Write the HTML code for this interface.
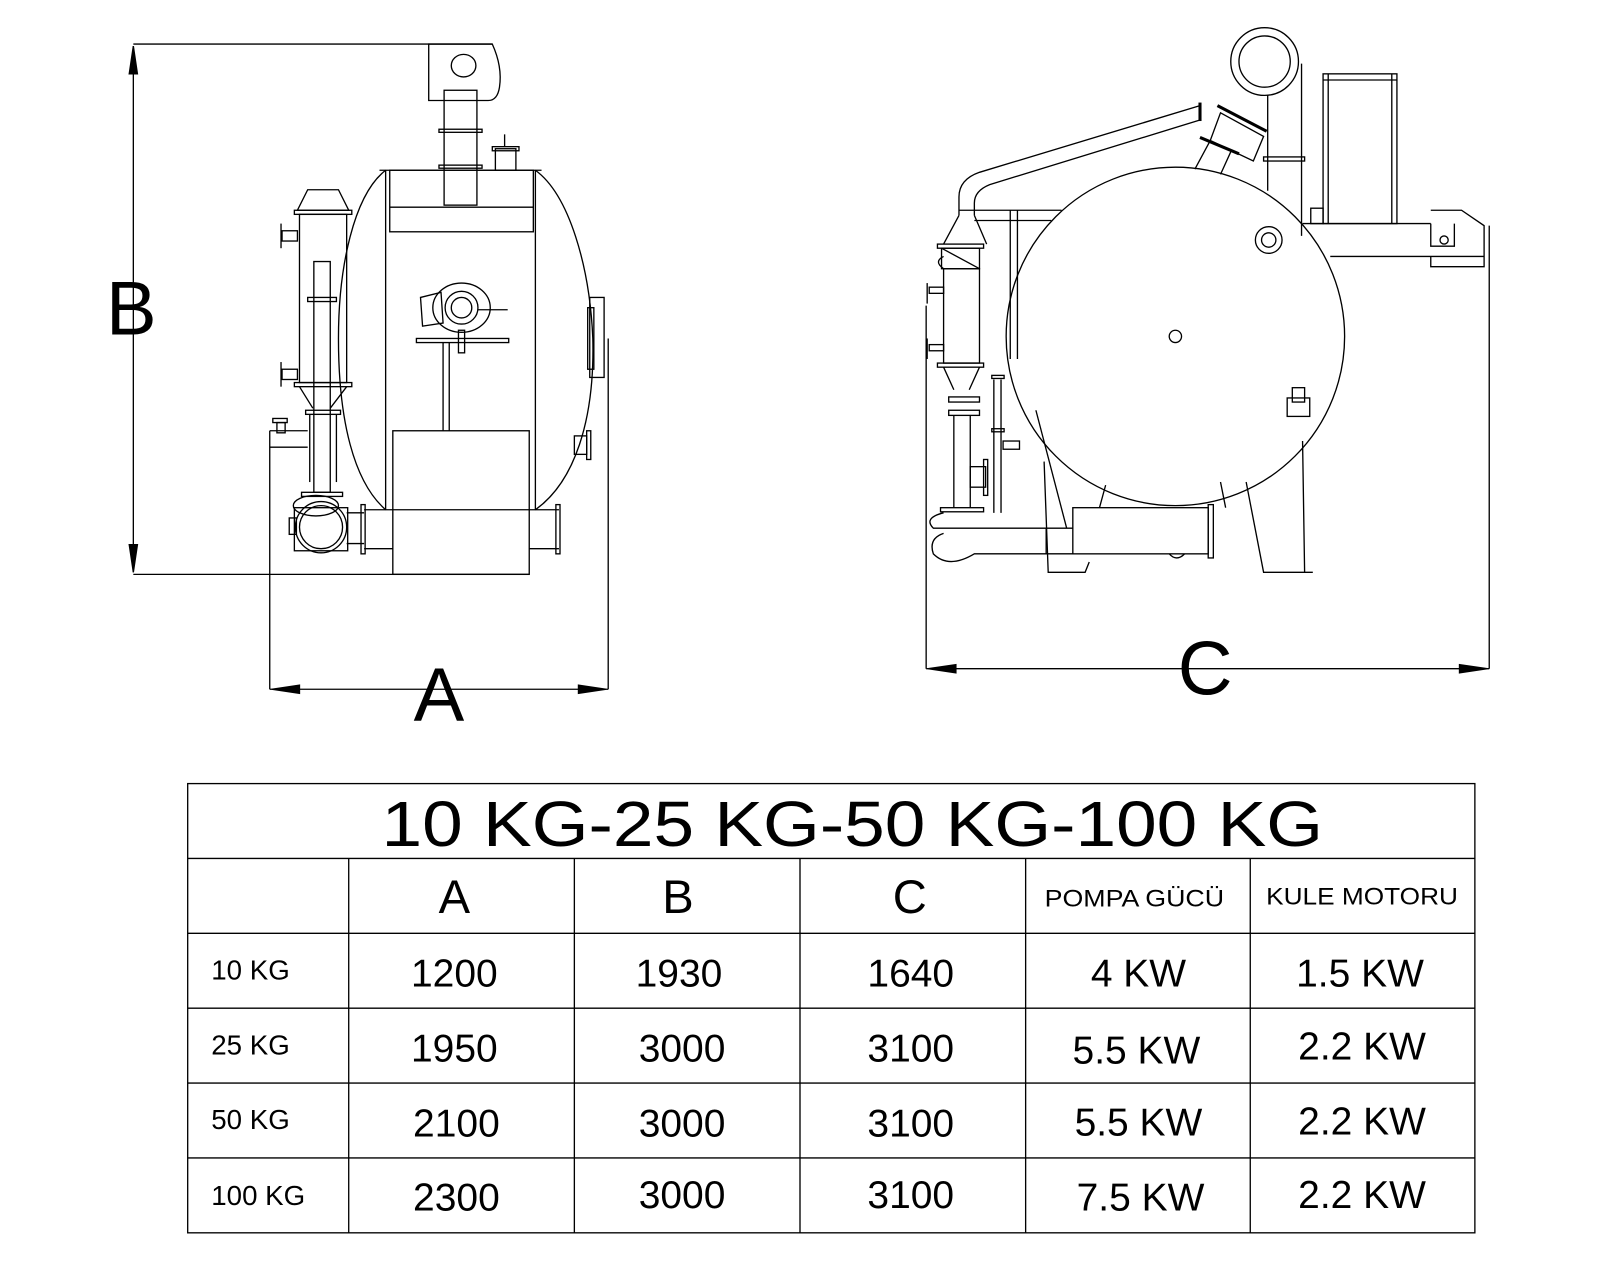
<!DOCTYPE html>
<html><head><meta charset="utf-8"><style>
html,body{margin:0;padding:0;background:#fff;}
svg{display:block;}
text{font-family:"Liberation Sans",sans-serif;fill:#000;}
</style></head><body>
<svg width="1600" height="1280" viewBox="0 0 1560 1248" preserveAspectRatio="none" xmlns="http://www.w3.org/2000/svg">
<g fill="none" stroke="#000" stroke-width="1.3">
<!-- ===== LEFT VIEW ===== -->
<!-- B dimension -->
<line x1="130" y1="43" x2="480" y2="43"/>
<line x1="130" y1="560" x2="516" y2="560"/>
<line x1="130" y1="45" x2="130" y2="558"/>
<polygon points="130,45 126,72 134,72" fill="#000"/>
<polygon points="130,558 126,531 134,531" fill="#000"/>
<!-- A dimension -->
<line x1="263" y1="420" x2="263" y2="672"/>
<line x1="593" y1="330" x2="593" y2="672"/>
<line x1="263" y1="672" x2="593" y2="672"/>
<polygon points="265,672 292,668 292,676" fill="#000"/>
<polygon points="591,672 564,668 564,676" fill="#000"/>
<!-- blower -->
<path d="M418,43 H480 Q490,65 487,85 Q485,98 476,98 H418 Z"/>
<ellipse cx="452" cy="64" rx="12" ry="11"/>
<rect x="433" y="88" width="32" height="112"/>
<rect x="428" y="126" width="42" height="3"/>
<rect x="428" y="161" width="42" height="3"/>
<!-- small fitting -->
<rect x="483" y="145" width="20" height="21"/>
<rect x="480" y="143" width="26" height="4"/>
<line x1="492" y1="131" x2="492" y2="143"/>
<!-- tank body -->
<path d="M376,166 C345,190 330,260 330,330 C330,410 345,470 376,497"/>
<path d="M522,166 C555,190 575,260 578,330 C580,410 560,470 522,497"/>
<line x1="370" y1="166" x2="528" y2="166"/>
<line x1="376" y1="166" x2="376" y2="497"/>
<line x1="522" y1="166" x2="522" y2="497"/>
<rect x="380" y="166" width="140" height="60"/>
<line x1="380" y1="202" x2="520" y2="202"/>
<!-- burner -->
<ellipse cx="450" cy="300" rx="28" ry="24"/>
<circle cx="450" cy="300" r="16"/>
<circle cx="450" cy="300" r="10"/>
<path d="M410,290 L430,285 L432,315 L412,318 Z"/>
<line x1="466" y1="302" x2="495" y2="302"/>
<rect x="406" y="330" width="90" height="4"/>
<rect x="447" y="322" width="6" height="22"/>
<line x1="432" y1="334" x2="432" y2="420"/>
<line x1="438" y1="334" x2="438" y2="420"/>
<!-- right manhole -->
<rect x="575" y="290" width="14" height="78"/>
<rect x="573" y="300" width="6" height="60"/>
<rect x="560" y="425" width="12" height="18"/>
<rect x="572" y="420" width="4" height="28"/>
<!-- bottom box & pipe -->
<rect x="383" y="420" width="133" height="140"/>
<line x1="355" y1="497" x2="545" y2="497"/>
<line x1="355" y1="535" x2="383" y2="535"/>
<line x1="516" y1="535" x2="545" y2="535"/>
<rect x="352" y="492" width="4" height="48"/>
<rect x="542" y="492" width="4" height="48"/>
<!-- left column -->
<path d="M300,185 H330 L340,205 H290 Z"/>
<rect x="287" y="205" width="56" height="4"/>
<rect x="292" y="209" width="46" height="164"/>
<rect x="287" y="373" width="56" height="4"/>
<path d="M292,377 L305,398 M338,377 L322,398"/>
<rect x="298" y="400" width="34" height="4"/>
<line x1="302" y1="404" x2="302" y2="470"/>
<line x1="328" y1="404" x2="328" y2="470"/>
<rect x="306" y="255" width="16" height="225"/>
<rect x="300" y="290" width="28" height="4"/>
<rect x="275" y="225" width="15" height="10"/>
<line x1="274" y1="218" x2="274" y2="242"/>
<rect x="275" y="360" width="15" height="10"/>
<line x1="274" y1="353" x2="274" y2="377"/>
<!-- base frame -->
<rect x="266" y="408" width="14" height="4"/>
<rect x="270" y="412" width="8" height="10"/>
<line x1="263" y1="420" x2="300" y2="420"/>
<line x1="263" y1="436" x2="300" y2="436"/>
<!-- pump -->
<rect x="294" y="480" width="40" height="4"/>
<ellipse cx="308" cy="493" rx="22" ry="10"/>
<circle cx="313" cy="514" r="25"/>
<circle cx="313" cy="514" r="21"/>
<rect x="287" y="495" width="52" height="42"/>
<rect x="282" y="505" width="7" height="16"/>
<line x1="338" y1="500" x2="355" y2="500"/>
<line x1="338" y1="530" x2="355" y2="530"/>

<!-- ===== RIGHT VIEW ===== -->
<!-- C dim -->
<line x1="903" y1="298" x2="903" y2="652"/>
<line x1="1452" y1="220" x2="1452" y2="652"/>
<line x1="903" y1="652" x2="1452" y2="652"/>
<polygon points="905,652 932,648 932,656" fill="#000"/>
<polygon points="1450,652 1423,648 1423,656" fill="#000"/>
<!-- big circle -->
<circle cx="1146" cy="328" r="165"/>
<circle cx="1146" cy="328" r="6"/>
<circle cx="1237" cy="234" r="13"/>
<circle cx="1237" cy="234" r="7"/>
<rect x="1255" y="388" width="22" height="18"/>
<rect x="1260" y="378" width="12" height="14"/>
<!-- blower -->
<circle cx="1233" cy="60" r="33"/>
<circle cx="1233" cy="60" r="25"/>
<line x1="1236" y1="93" x2="1236" y2="186"/>
<line x1="1269" y1="62" x2="1269" y2="230"/>
<rect x="1232" y="153" width="40" height="4"/>
<path d="M1190,110 L1232,133 L1222,157 L1180,137 Z"/>
<line x1="1187" y1="103" x2="1235" y2="128" stroke-width="3"/>
<path d="M1180,137 L1165,165 M1200,148 L1190,170"/>
<line x1="1170" y1="134" x2="1208" y2="150" stroke-width="3"/>
<line x1="1170" y1="100" x2="1170" y2="118" stroke-width="3"/>
<!-- pipe -->
<path d="M1170,103 L955,168 Q935,175 935,192 V210"/>
<path d="M1170,117 L965,180 Q950,186 950,198 V210"/>
<line x1="935" y1="205" x2="1035" y2="205"/>
<line x1="950" y1="215" x2="1025" y2="215"/>
<line x1="985" y1="205" x2="985" y2="350"/>
<line x1="992" y1="205" x2="992" y2="350"/>
<!-- motor box -->
<rect x="1290" y="72" width="72" height="146"/>
<line x1="1295" y1="72" x2="1295" y2="218"/>
<line x1="1357" y1="72" x2="1357" y2="218"/>
<line x1="1290" y1="78" x2="1362" y2="78"/>
<rect x="1278" y="203" width="12" height="15"/>
<!-- beam -->
<line x1="1270" y1="218" x2="1395" y2="218"/>
<line x1="1297" y1="250" x2="1447" y2="250"/>
<path d="M1395,205 H1425 L1447,220 V260 H1395 V250 M1395,218 V240 H1418 V218"/>
<circle cx="1408" cy="234" r="4"/>
<!-- column -->
<path d="M935,210 L920,238 M950,210 L962,238"/>
<rect x="914" y="238" width="45" height="4"/>
<rect x="918" y="242" width="37" height="20"/>
<line x1="918" y1="242" x2="955" y2="262"/>
<rect x="920" y="262" width="35" height="92"/>
<path d="M920,262 Q910,255 920,250"/>
<rect x="906" y="280" width="14" height="6"/>
<line x1="904" y1="276" x2="904" y2="296"/>
<rect x="906" y="336" width="14" height="6"/>
<line x1="904" y1="330" x2="904" y2="350"/>
<rect x="914" y="354" width="45" height="4"/>
<path d="M920,358 L930,380 M955,358 L945,380"/>
<rect x="925" y="387" width="30" height="5"/>
<rect x="925" y="400" width="30" height="5"/>
<line x1="930" y1="405" x2="930" y2="495"/>
<line x1="946" y1="405" x2="946" y2="495"/>
<rect x="946" y="455" width="15" height="20"/>
<rect x="959" y="448" width="4" height="35"/>
<rect x="917" y="495" width="42" height="4"/>
<path d="M920,500 Q900,505 910,515 H1046"/>
<path d="M920,520 Q905,525 910,540 Q925,555 950,540 H1046"/>
<!-- sub pipes -->
<line x1="969" y1="370" x2="969" y2="500"/>
<line x1="976" y1="370" x2="976" y2="500"/>
<rect x="967" y="366" width="12" height="3"/>
<rect x="967" y="418" width="12" height="3"/>
<rect x="978" y="430" width="16" height="8"/>
<!-- legs -->
<path d="M1018,450 L1022,558 H1058 L1062,548"/>
<line x1="1010" y1="400" x2="1040" y2="515"/>
<path d="M1215,470 L1232,558 H1280 M1270,430 L1272,558"/>
<!-- bottom pipe -->
<rect x="1046" y="495" width="132" height="45"/>
<line x1="1020" y1="515" x2="1020" y2="540"/>
<rect x="1178" y="492" width="5" height="52"/>
<path d="M1140,540 Q1147,548 1155,540"/>
<path d="M1078,473 L1072,495 M1190,470 L1195,495"/>

<!-- ===== TABLE ===== -->
<rect x="183" y="764" width="1255" height="438"/>
<line x1="183" y1="837" x2="1438" y2="837"/>
<line x1="183" y1="910" x2="1438" y2="910"/>
<line x1="183" y1="983" x2="1438" y2="983"/>
<line x1="183" y1="1056" x2="1438" y2="1056"/>
<line x1="183" y1="1129" x2="1438" y2="1129"/>
<line x1="340" y1="837" x2="340" y2="1202"/>
<line x1="560" y1="837" x2="560" y2="1202"/>
<line x1="780" y1="837" x2="780" y2="1202"/>
<line x1="1000" y1="837" x2="1000" y2="1202"/>
<line x1="1219" y1="837" x2="1219" y2="1202"/>
</g>
<g>
<text x="128" y="326" font-size="74" text-anchor="middle">B</text>
<text x="428" y="703" font-size="74" text-anchor="middle">A</text>
<text x="1175" y="677" font-size="74" text-anchor="middle">C</text>
<text x="831" y="825" font-size="62" text-anchor="middle" textLength="918" lengthAdjust="spacingAndGlyphs">10 KG-25 KG-50 KG-100 KG</text>
<text x="443" y="890" font-size="46" text-anchor="middle">A</text>
<text x="661" y="890" font-size="46" text-anchor="middle">B</text>
<text x="887" y="890" font-size="46" text-anchor="middle">C</text>
<text x="1106" y="884" font-size="23" text-anchor="middle" textLength="175" lengthAdjust="spacingAndGlyphs">POMPA GÜCÜ</text>
<text x="1328" y="882" font-size="23" text-anchor="middle" textLength="187" lengthAdjust="spacingAndGlyphs">KULE MOTORU</text>
<g font-size="27">
<text x="206" y="955">10 KG</text>
<text x="206" y="1028">25 KG</text>
<text x="206" y="1101">50 KG</text>
<text x="206" y="1175">100 KG</text>
</g>
<g font-size="38" text-anchor="middle">
<text x="443" y="962">1200</text><text x="662" y="962">1930</text><text x="888" y="962">1640</text><text x="1110" y="962">4 KW</text><text x="1326" y="962">1.5 KW</text>
<text x="443" y="1035">1950</text><text x="665" y="1035">3000</text><text x="888" y="1035">3100</text><text x="1108" y="1037">5.5 KW</text><text x="1328" y="1033">2.2 KW</text>
<text x="445" y="1108">2100</text><text x="665" y="1108">3000</text><text x="888" y="1108">3100</text><text x="1110" y="1107">5.5 KW</text><text x="1328" y="1106">2.2 KW</text>
<text x="445" y="1180">2300</text><text x="665" y="1178">3000</text><text x="888" y="1178">3100</text><text x="1112" y="1180">7.5 KW</text><text x="1328" y="1178">2.2 KW</text>
</g>
</g>
</svg>
</body></html>
